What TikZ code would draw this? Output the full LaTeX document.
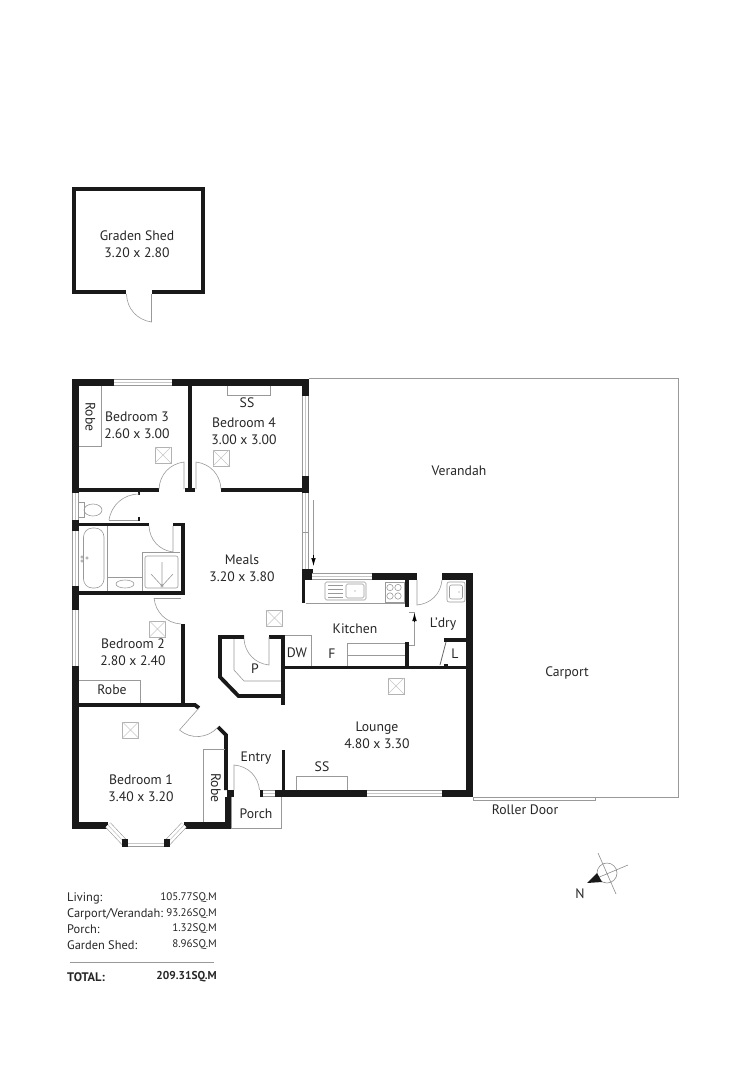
\documentclass[tikz,border=0pt]{standalone}
\usepackage{fontspec}
\setmainfont{PT Sans}
\usetikzlibrary{arrows.meta}
\tikzset{
  wall/.style={line width=7pt,line join=miter,black!90},
  thinwall/.style={line width=3.8pt,line join=miter,black!90},
  fine/.style={draw=black!40,line width=.6pt},
  glass/.style={draw=black!40,line width=.6pt,double=white,double distance=5.8pt},
  pane/.style={draw=black!22,line width=.6pt},
  label/.style={font=\fontsize{13.7}{17}\selectfont,align=center,text=black!85},
  small/.style={font=\fontsize{12.4}{14}\selectfont,text=black!85},
  value/.style={font=\fontsize{11}{13}\selectfont,text=black!85}
}
\begin{document}
\begin{tikzpicture}[x=1pt,y=-1pt]
  \useasboundingbox (0,0) rectangle (750,1070);
  % garden shed
  \draw[thinwall] (126,292) -- (74,292) -- (74,189) -- (203,189) -- (203,292) -- (152,292);
  \draw[fine] (151.5,294) -- (151.5,322) to[bend left=40] (126.5,294);
  % verandah and carport outline
  \draw[fine] (309,378.5) -- (678,378.5) -- (678,797) -- (473,797) -- (473,800) -- (595,800) -- (595,797);
  % outer walls
  \draw[wall] (75.5,493) -- (75.5,382.5) -- (114,382.5);
  \draw[wall] (172,382.5) -- (305.5,382.5) -- (305.5,396);
  \draw[wall] (305.5,476) -- (305.5,493);
  \draw[wall] (75.5,520) -- (75.5,531);
  \draw[wall] (75.5,586) -- (75.5,610);
  \draw[wall] (75.5,666) -- (75.5,825.5) -- (108,825.5);
  \draw[wall] (184,825.5) -- (228,825.5) -- (228,797);
  \draw[wall] (227,793.5) -- (234,793.5);
  \draw[wall] (260,793.5) -- (263,793.5);
  \draw[wall] (275,793.5) -- (367,793.5);
  \draw[wall] (442,793.5) -- (469.5,793.5) -- (469.5,576.5) -- (442,576.5);
  \draw[wall] (417,576.5) -- (372,576.5);
  \draw[wall] (312,576.5) -- (302,576.5);
  \draw[line width=11pt,black!90] (307,569) -- (307,580);
  % inner walls
  \draw[thinwall] (79,490) -- (159,490);
  \draw[thinwall] (185,490) -- (195,490);
  \draw[thinwall] (190,383) -- (190,490);
  \draw[thinwall] (221,490) -- (302,490);
  \draw[thinwall] (79,524.5) -- (149,524.5);
  \draw[thinwall] (173,524.5) -- (183,524.5) -- (183,593) -- (79,593);
  \draw[thinwall] (183,624) -- (183,705);
  \draw[thinwall] (79,705) -- (195,705) -- (199,708);
  \draw[thinwall] (218,727) -- (226,735) -- (226,790);
  \draw[thinwall] (283.5,750) -- (283.5,790);
  \draw[thinwall] (244,637) -- (220,637) -- (220,677) -- (238.5,696) -- (282,696);
  \draw[thinwall] (269,637) -- (283,637) -- (283,705);
  \draw[thinwall] (283,667.5) -- (466,667.5);
  \draw[thinwall] (303.5,569) -- (303.5,603);
  \draw[thinwall] (407,580) -- (407,607);
  \draw[thinwall] (407,642) -- (407,666);
  \draw[thinwall] (444,640) -- (466,640);
  \draw[line width=2.5pt,black!90] (139,492) -- (139,495);
  \draw[line width=2.5pt,black!90] (139,517) -- (139,521);
  \draw[line width=3pt,black!90] (444,665.5) -- (448,665.5);
  % windows
  \foreach \xa/\ya/\xb/\yb in {114/382.5/172/382.5, 305.5/396/305.5/476, 305.5/493/305.5/569,
      75.5/493/75.5/520, 75.5/531/75.5/586, 75.5/610/75.5/666, 312/576.5/372/576.5,
      367/793.5/442/793.5, 263/793.5/275/793.5,
      108/825/125/843, 125/843/167/843, 167/843/184/825} {
    \draw[glass] (\xa,\ya) -- (\xb,\yb);
    \draw[pane] (\xa,\ya) -- (\xb,\yb);
  }
  \draw[fine] (302,532) -- (309,532);
  \foreach \cx/\cy in {125/843,167/843} {
    \fill[black!90] (\cx-3,\cy-4) rectangle (\cx+3,\cy+4);
  }
  % ceiling fans
  \foreach \fx/\fy in {163/455,221/458,274.5/618,157.5/629,130.5/730,396/686} {
    \draw[pane,draw=black!30] (\fx-8,\fy-8) rectangle (\fx+8,\fy+8);
    \draw[pane] (\fx-8,\fy-8) -- (\fx+8,\fy+8) (\fx-8,\fy+8) -- (\fx+8,\fy-8);
  }
  % doors
  \draw[fine] (184,489) -- (184,462) to[bend right=40] (159,489);
  \draw[fine] (196,489) -- (196,462) to[bend left=40] (221,489);
  \draw[fine] (109,520) -- (138,520);
  \draw[fine] (109,520) to[bend left=40] (139,494);
  \draw[fine] (173,526) -- (173,552) to[bend left=40] (149,526);
  \draw[fine] (154,598) -- (181,598);
  \draw[fine] (154,598) to[bend right=40] (181,624);
  \draw[fine] (199,708) -- (179.5,730) to[bend right=45] (218,727);
  \draw[fine] (234,790) -- (234,765) to[bend left=40] (259.5,790);
  \draw[fine] (269,637) -- (269,665) to[bend left=40] (244,639);
  \draw[fine] (417,580) -- (417,605) to[bend right=40] (442,580);
  \draw[black!60,line width=.8pt] (446,642) -- (440,665);
  % sliding doors
  \draw[fine] (313.5,500) -- (313.5,557);
  \draw[-{Latex[length=8pt,width=4.5pt]},black,line width=.6pt] (313.5,555) -- (313.5,566);
  \draw[fine] (409,612.5) -- (414.5,612.5) -- (414.5,645) -- (409,645);
  \draw[-{Latex[length=8pt,width=4.5pt]},black,line width=.6pt] (414.5,622) -- (414.5,613);
  % robes, cupboards and fittings
  \draw[fine] (101,386) -- (101,446) -- (79,446);
  \draw[fine] (79,680) -- (140,680) -- (140,703);
  \draw[fine] (225,749) -- (203,749) -- (203,822);
  \draw[fine] (227,386) -- (227,395) -- (270,395) -- (270,386);
  \draw[fine] (296,790) -- (296,776.5) -- (347,776.5) -- (347,790);
  \draw[fine] (231,797) -- (231,828.5) -- (281,828.5) -- (281,797);
  \draw[fine] (285,635.5) -- (311.5,635.5) -- (311.5,666);
  \draw[fine] (347,666) -- (347,643) -- (405,643) (347,655) -- (405,655);
  % pantry shelf
  \draw[fine] (234,639) -- (234,670) -- (244,681) -- (281,681);
  % kitchen bench
  \draw[fine] (305.5,603) -- (405,603);
  \draw[fine,rounded corners=1.5pt] (325,582) rectangle (366,600);
  \draw[fine,rounded corners=1.5pt] (346,584) rectangle (364,598);
  \foreach \ly in {586,590,594,598} {
    \draw[fine] (328,\ly-1) -- (343,\ly-1);
  }
  \fill[black!50] (355,591) circle (.7);
  \draw[fine] (385,582) rectangle (404,602);
  \foreach \bx/\by in {390/587.5,398/587.5,390/596,398/596} {
    \draw[fine] (\bx,\by) circle (3.2);
  }
  % laundry tub
  \draw[fine,rounded corners=2pt] (447,582) rectangle (465,602);
  \draw[fine,rounded corners=2pt] (449.5,585) rectangle (462.5,599);
  \fill[black!50] (459,592) circle (.7);
  % bathroom
  \draw[fine] (107,526) -- (107,591);
  \draw[fine,rounded corners=9pt] (83.5,528) rectangle (104,588);
  \draw[fine] (82,557) circle (1.2) (87,558) circle (1.2) (82,561) circle (1.2);
  \draw[fine] (107,577) -- (142,577);
  \draw[fine] (125,584) ellipse (9 and 4);
  \draw[fine] (142,591) -- (142,552.5) -- (180,552.5);
  \draw[fine,rounded corners=2pt] (145,556) rectangle (178,588);
  \draw[fine] (162,586) circle (1.3);
  \draw[fine] (162,586) -- (151,574) (162,586) -- (173,574) (162,586) -- (162,562);
  % toilet
  \draw[fine] (79,502) -- (84,502) -- (84,517) -- (79,517);
  \draw[fine] (93,510) ellipse (9 and 6);
  % compass
  \draw[pane,draw=black!45] (607,873) circle (10);
  \draw[pane,draw=black!45] (598,853) -- (616,894) (628,865) -- (597,878);
  \fill[black!90] (587,883) -- (597,873) -- (602,882) -- cycle;
  % legend rule
  \draw[pane,draw=black!40] (70,962) -- (214,962);

  % labels
  \node[label] (shed) at (137,244.5) {Graden Shed\\3.20 x 2.80};
  \node[label] (bedthree) at (137,425.5) {Bedroom 3\\2.60 x 3.00};
  \node[label] (bedfour) at (244,431.5) {Bedroom 4\\3.00 x 3.00};
  \node[label] (meals) at (242,568.5) {Meals\\3.20 x 3.80};
  \node[label] (bedtwo) at (133,652.5) {Bedroom 2\\2.80 x 2.40};
  \node[label] (bedone) at (141,788.5) {Bedroom 1\\3.40 x 3.20};
  \node[label] (lounge) at (377,735.5) {Lounge\\4.80 x 3.30};
  \node[label] (kitchen) at (355,629) {Kitchen};
  \node[label] (ldry) at (443,624) {L’dry};
  \node[label] (verandah) at (459,471) {Verandah};
  \node[label] (carport) at (567,673) {Carport};
  \node[label] (roller) at (525,810) {Roller Door};
  \node[label] (entry) at (256,758) {Entry};
  \node[label] (porch) at (256,814) {Porch};
  \node[label] (ssfour) at (247,403) {SS};
  \node[label] (sslounge) at (322,767) {SS};
  \node[label,rotate=-90] (robethree) at (90.5,417) {Robe};
  \node[label] (robetwo) at (112,690) {Robe};
  \node[label,rotate=-90] (robeone) at (216,788) {Robe};
  \node[label] (dw) at (297,653) {DW};
  \node[label] (fridge) at (332,654) {F};
  \node[label] (pantry) at (255,669) {P};
  \node[label] (linen) at (455,654) {L};
  \node[label] (north) at (580,894) {N};
  % area table
  \foreach \rowname/\rowy/\rowl/\rowv in {living/898/Living:/105.77SQ.M,
      carport/914/Carport\slash Verandah:/93.26SQ.M,
      porch/929/Porch:/1.32SQ.M,
      garden/945/Garden Shed:/8.96SQ.M} {
    \node[small,anchor=west,inner xsep=0pt] (\rowname l) at (67,\rowy) {\rowl};
    \node[value,anchor=east,inner xsep=0pt] (\rowname v) at (217,\rowy) {\rowv};
  }
  \node[small,anchor=west,inner xsep=0pt,font=\fontsize{12.4}{14}\selectfont\bfseries] (totall) at (67,977) {TOTAL:};
  \node[value,anchor=east,inner xsep=0pt,font=\fontsize{11.4}{13}\selectfont\bfseries] (totalv) at (217,977) {209.31SQ.M};
\end{tikzpicture}
\end{document}
